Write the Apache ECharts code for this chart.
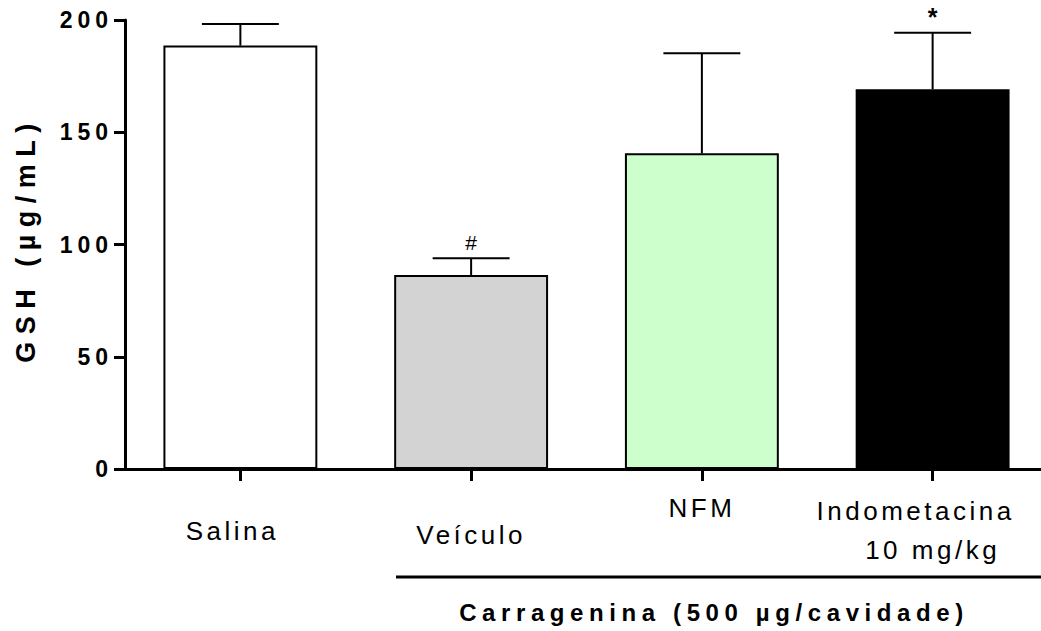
<!DOCTYPE html>
<html>
<head>
<meta charset="utf-8">
<script src="https://cdn.jsdelivr.net/npm/echarts@6/dist/echarts.min.js"></script>
<style>
  html, body { margin: 0; padding: 0; background: #fff; }
  #chart { width: 1041px; height: 631px; }
  /* wide tracking, sized per text group */
  #chart text { letter-spacing: 0; }
  #chart text[style*="23px"], #chart text[font-size="23"] { letter-spacing: 5px; }
  #chart text[style*="26px"], #chart text[font-size="26"] { letter-spacing: 3.5px; }
  #chart text[style*="27px"], #chart text[font-size="27"] { letter-spacing: 7.5px; }
  #chart text[style*="24px"], #chart text[font-size="24"] { letter-spacing: 5.6px; }
</style>
</head>
<body>
<div id="chart"></div>
<script>
// Groups on the category axis
const categories = ['Salina', 'Veículo', 'NFM', 'Indometacina\n10 mg/kg'];
// Mean GSH (µg/mL) per group
const means = [188.6, 86.4, 140.6, 169.1];
// Upper error (SEM) per group
const errors = [9.6, 7.5, 44.6, 25.2];
// Significance marks drawn above the error bars
const marks = ['', '#', '', '*'];
// Value-axis ticks
const yTicks = [0, 50, 100, 150, 200];
const groupTitle = 'Carragenina (500 µg/cavidade)';

// Bar fills
const fills = ['#ffffff', '#d3d3d3', '#ccffcc', '#000000'];
// Label placement under each tick: drop below the axis, right-side inset
const labelDrop = [28.5, 32.5, 6, 2.5];
const labelInset = [16, 0, 0, 0];
const labelLineHeight = [26, 26, 26, 39];

const FONT = '"Liberation Sans", Arial, sans-serif';
const BAR_FRACTION = 0.667;

const chart = echarts.init(document.getElementById('chart'), null, { renderer: 'svg' });

// Two-line labels: first line nudged left, second line centred on the tick
function formatCategory(value) {
  const lines = value.split('\n');
  if (lines.length < 2) return value;
  return '{first|' + lines[0] + '}\n{second|' + lines[1] + '}';
}

const option = {
  animation: false,
  backgroundColor: '#ffffff',
  grid: { left: 125, width: 923, top: 20, bottom: 162, containLabel: false, outerBoundsMode: 'none' },
  xAxis: {
    type: 'category',
    data: categories.map((c, i) => ({
      value: c,
      textStyle: { padding: [labelDrop[i], labelInset[i], 0, 0], lineHeight: labelLineHeight[i] }
    })),
    axisLine: { show: true, lineStyle: { color: '#000', width: 3 } },
    axisTick: { show: true, inside: false, alignWithLabel: true, length: 12,
                lineStyle: { color: '#000', width: 3 } },
    axisLabel: {
      color: '#000', fontSize: 26, fontFamily: FONT, margin: 20, interval: 0,
      formatter: formatCategory,
      rich: {
        first: { fontSize: 26, fontFamily: FONT, color: '#000', lineHeight: 39, padding: [0, 34, 0, 0] },
        second: { fontSize: 26, fontFamily: FONT, color: '#000', lineHeight: 39 }
      }
    },
    splitLine: { show: false }
  },
  yAxis: {
    type: 'value',
    min: yTicks[0],
    max: yTicks[yTicks.length - 1],
    interval: yTicks[1] - yTicks[0],
    name: 'GSH (µg/mL)',
    nameLocation: 'middle',
    nameGap: 86,
    nameRotate: 90,
    nameTextStyle: { color: '#000', fontSize: 27, fontWeight: 'bold', fontFamily: FONT,
                     padding: [0, 0, 0, 10] },
    axisLine: { show: true, lineStyle: { color: '#000', width: 3 } },
    axisTick: { show: true, length: 11, lineStyle: { color: '#000', width: 3 } },
    axisLabel: { color: '#000', fontSize: 23, fontWeight: 'bold', fontFamily: FONT, margin: 12 },
    splitLine: { show: false }
  },
  series: [
    {
      type: 'bar',
      barWidth: (BAR_FRACTION * 100) + '%',
      data: means.map((v, i) => ({ value: v, itemStyle: { color: fills[i] } })),
      itemStyle: { borderColor: '#000', borderWidth: 2 },
      z: 2
    },
    {
      type: 'custom',
      z: 3,
      data: means.map((v, i) => [i, v, v + errors[i]]),
      renderItem(params, api) {
        const idx = api.value(0);
        const lo = api.coord([idx, api.value(1)]);
        const hi = api.coord([idx, api.value(2)]);
        const half = api.size([1, 0])[0] * BAR_FRACTION / 4;
        const mark = marks[params.dataIndex];
        const children = [
          { type: 'line', shape: { x1: lo[0], y1: lo[1], x2: hi[0], y2: hi[1] },
            style: { stroke: '#000', lineWidth: 2 } },
          { type: 'line', shape: { x1: hi[0] - half, y1: hi[1], x2: hi[0] + half, y2: hi[1] },
            style: { stroke: '#000', lineWidth: 2 } }
        ];
        if (mark) {
          children.push({
            type: 'text', x: hi[0], y: hi[1] - 16,
            style: {
              text: mark, fill: '#000', align: 'center', verticalAlign: 'middle',
              fontSize: mark === '*' ? 25 : 21,
              fontWeight: mark === '*' ? 'bold' : 'normal',
              fontFamily: FONT
            }
          });
        }
        return { type: 'group', children };
      }
    }
  ],
  graphic: [
    { type: 'line', shape: { x1: 396, y1: 577, x2: 1041, y2: 577 },
      style: { stroke: '#000', lineWidth: 3 } },
    { type: 'text', x: 714, y: 612,
      style: { text: groupTitle, fill: '#000', align: 'center', verticalAlign: 'middle',
               fontSize: 24, fontWeight: 'bold', fontFamily: FONT } }
  ]
};

chart.setOption(option);
</script>
</body>
</html>
